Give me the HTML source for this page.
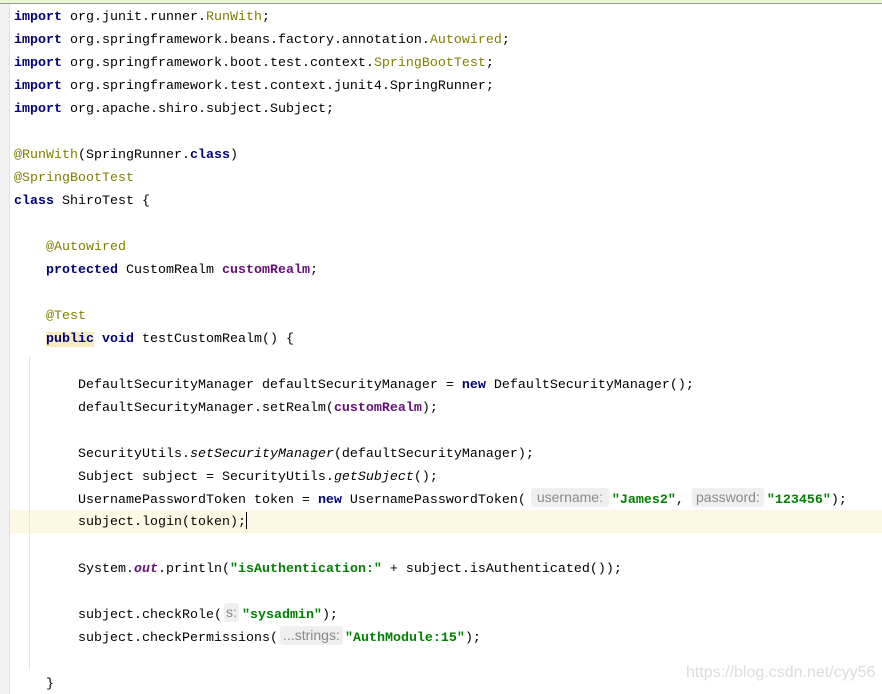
<!DOCTYPE html>
<html><head><meta charset="utf-8"><style>
html,body{margin:0;padding:0;background:#fff;width:882px;height:694px;overflow:hidden;position:relative}
.top{position:absolute;left:0;top:0;width:882px;height:3px;background:#e4f6d4;border-bottom:1px solid #9a9a9a}
.gut{position:absolute;left:0;top:4px;width:9px;height:690px;background:#f2f2f2;border-right:1px solid #e0e0e0}
.hl{position:absolute;left:10px;top:510px;width:872px;height:23px;background:#fdf8e4}
.guide{position:absolute;left:29px;top:356px;width:1px;height:314px;background:#e6e6e6}
.l{position:absolute;left:14px;height:23px;line-height:23px;white-space:pre;font-family:"Liberation Mono",monospace;font-size:13.33px;color:#000}
.k{color:#000080;font-weight:bold}
.a{color:#808000}
.f{color:#660e7a;font-weight:bold}
.s{color:#008000;font-weight:bold}
.i{font-style:italic}
.h{display:inline-block;background:#efefef;color:#8a8a8a;font-family:"Liberation Sans",sans-serif;font-size:14px;border-radius:3px;line-height:19px;text-align:center;vertical-align:middle;margin-top:-3px}
.pub{background:#f6ecbf}
.cur{display:inline-block;width:1px;height:17px;background:#000;vertical-align:middle;margin-top:-2px}
.wm{position:absolute;left:686px;top:664px;font-family:"Liberation Sans",sans-serif;font-size:16px;color:#dcdcdc}
</style></head><body>
<div class="top"></div><div class="gut"></div><div class="hl"></div><div class="guide"></div>
<div class="l" style="top:6px"><span class="k">import</span> org.junit.runner.<span class="a">RunWith</span>;</div>
<div class="l" style="top:29px"><span class="k">import</span> org.springframework.beans.factory.annotation.<span class="a">Autowired</span>;</div>
<div class="l" style="top:52px"><span class="k">import</span> org.springframework.boot.test.context.<span class="a">SpringBootTest</span>;</div>
<div class="l" style="top:75px"><span class="k">import</span> org.springframework.test.context.junit4.SpringRunner;</div>
<div class="l" style="top:98px"><span class="k">import</span> org.apache.shiro.subject.Subject;</div>
<div class="l" style="top:144px"><span class="a">@RunWith</span>(SpringRunner.<span class="k">class</span>)</div>
<div class="l" style="top:167px"><span class="a">@SpringBootTest</span></div>
<div class="l" style="top:190px"><span class="k">class</span> ShiroTest {</div>
<div class="l" style="top:236px">    <span class="a">@Autowired</span></div>
<div class="l" style="top:259px">    <span class="k">protected</span> CustomRealm <span class="f">customRealm</span>;</div>
<div class="l" style="top:305px">    <span class="a">@Test</span></div>
<div class="l" style="top:328px">    <span class="k pub">public</span> <span class="k">void</span> testCustomRealm() {</div>
<div class="l" style="top:374px">        DefaultSecurityManager defaultSecurityManager = <span class="k">new</span> DefaultSecurityManager();</div>
<div class="l" style="top:397px">        defaultSecurityManager.setRealm(<span class="f">customRealm</span>);</div>
<div class="l" style="top:443px">        SecurityUtils.<span class="i">setSecurityManager</span>(defaultSecurityManager);</div>
<div class="l" style="top:466px">        Subject subject = SecurityUtils.<span class="i">getSubject</span>();</div>
<div class="l" style="top:489px">        UsernamePasswordToken token = <span class="k">new</span> UsernamePasswordToken(<span class="h" style="width:78px;margin-left:5px;margin-right:3px">username:</span><span class="s">"James2"</span>, <span class="h" style="width:72px;margin-right:3px">password:</span><span class="s">"123456"</span>);</div>
<div class="l" style="top:511px">        subject.login(token);<span class="cur"></span></div>
<div class="l" style="top:558px">        System.<span class="f i">out</span>.println(<span class="s">"isAuthentication:"</span> + subject.isAuthenticated());</div>
<div class="l" style="top:604px">        subject.checkRole(<span class="h" style="width:15px;margin-left:2px;margin-right:3px">s:</span><span class="s">"sysadmin"</span>);</div>
<div class="l" style="top:627px">        subject.checkPermissions(<span class="h" style="width:63px;margin-left:2px;margin-right:2px">...strings:</span><span class="s">"AuthModule:15"</span>);</div>
<div class="l" style="top:673px">    }</div>
<div class="wm">https://blog.csdn.net/cyy56</div>
</body></html>
